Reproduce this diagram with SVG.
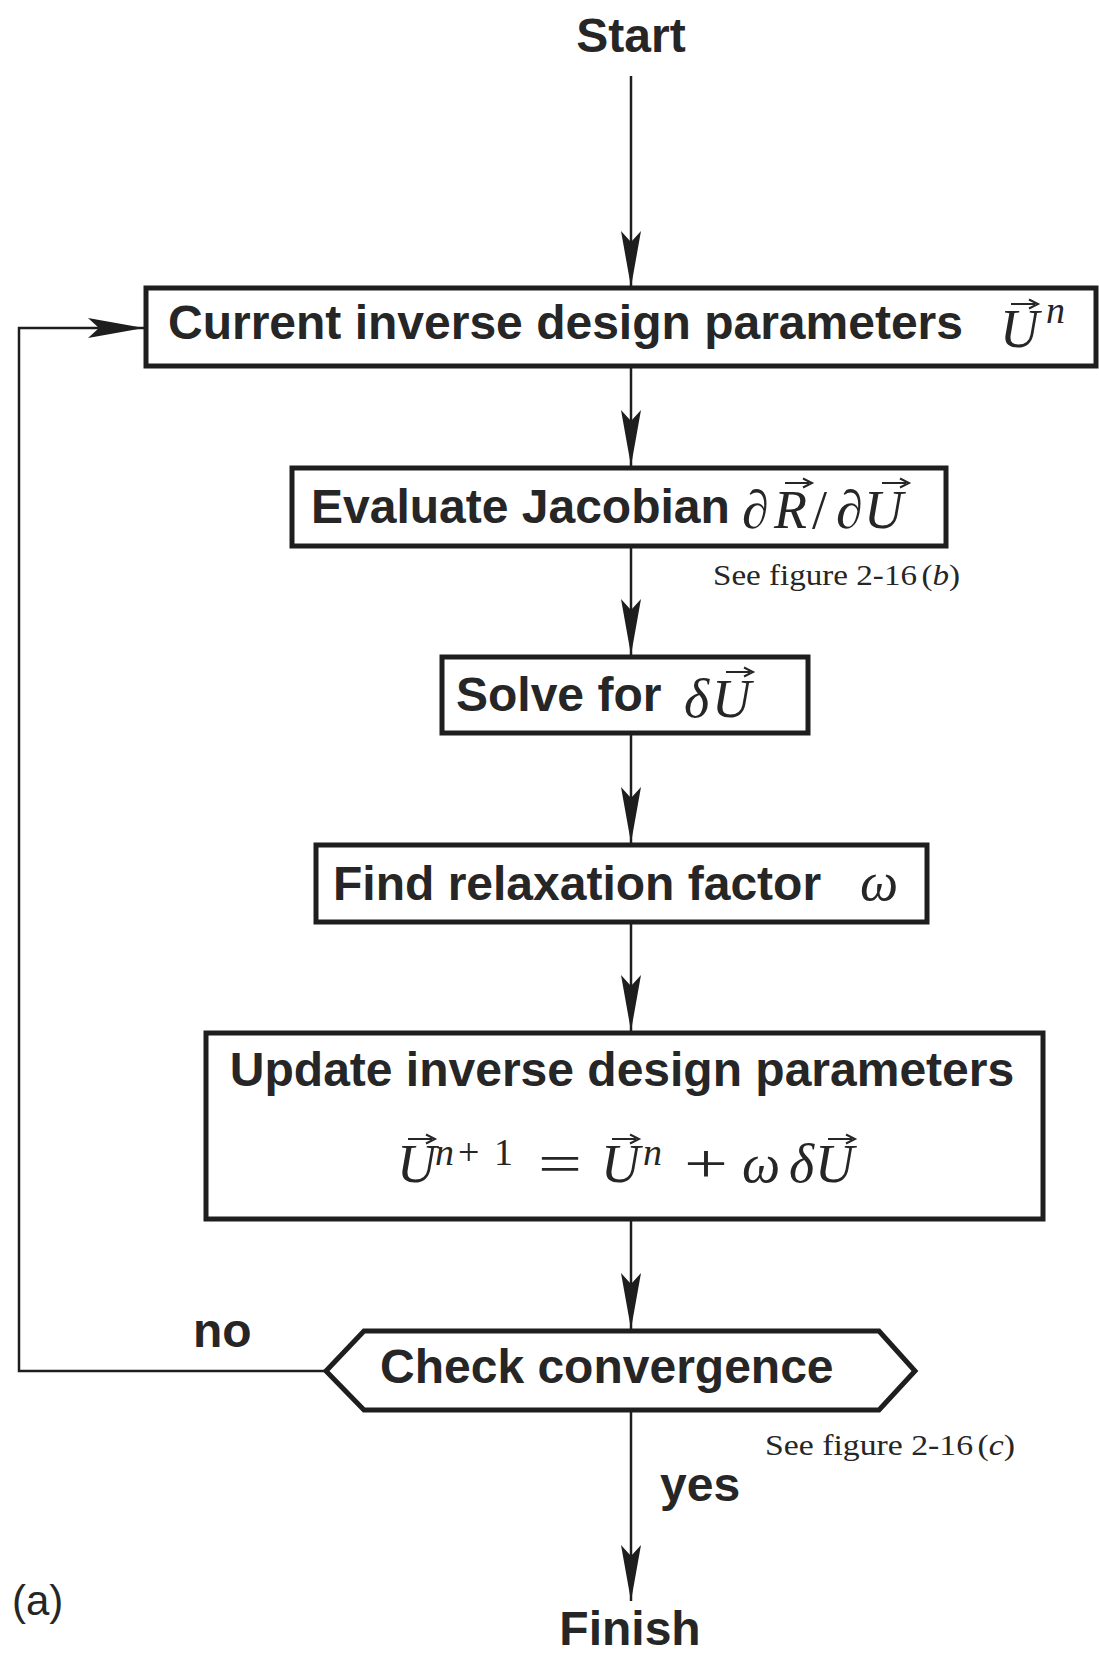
<svg xmlns="http://www.w3.org/2000/svg" xmlns:xlink="http://www.w3.org/1999/xlink" width="1099" height="1655" viewBox="0 0 1099 1655">
<style>
.box{fill:#fff;stroke:#1e1e1e;stroke-width:5}
.lbl{font-family:"Liberation Sans",Arial,sans-serif;font-weight:bold;font-size:48px;fill:#262626}
.m{font-family:"Liberation Serif","Times New Roman",serif;font-style:italic;font-size:54px;fill:#262626}
.mr{font-family:"Liberation Serif","Times New Roman",serif;font-style:normal;font-size:54px;fill:#262626}
.sup{font-family:"Liberation Serif","Times New Roman",serif;font-size:38px;fill:#262626}
.note{font-family:"Liberation Serif","Times New Roman",serif;font-size:30px;fill:#262626}
.edge{fill:none;stroke:#1e1e1e;stroke-width:2.5}
.vec{fill:none;stroke:#262626;stroke-width:2}
</style>
<defs>
<marker id="ah" viewBox="-58 -12 60 24" refX="0" refY="0" markerWidth="60" markerHeight="24" markerUnits="userSpaceOnUse" orient="auto">
<path d="M0,0 L-56,-10 L-45,0 L-56,10 Z" fill="#1e1e1e"/>
</marker>
<g id="vec"><path class="vec" d="M0,0 H24"/><path d="M18,-4.5 L27,0 L18,4.5" fill="none" stroke="#262626" stroke-width="2"/></g>
</defs>
<rect width="1099" height="1655" fill="#fff"/>

<g id="connectors">
<path class="edge" d="M631,76 V287" marker-end="url(#ah)"/>
<path class="edge" d="M631,366 V466" marker-end="url(#ah)"/>
<path class="edge" d="M631,546 V655" marker-end="url(#ah)"/>
<path class="edge" d="M631,733 V843" marker-end="url(#ah)"/>
<path class="edge" d="M631,922 V1031" marker-end="url(#ah)"/>
<path class="edge" d="M631,1219 V1329" marker-end="url(#ah)"/>
<path class="edge" d="M631,1410 V1601" marker-end="url(#ah)"/>
<path class="edge" d="M326,1371 H19 V328 H144" marker-end="url(#ah)"/>
</g>

<g id="start"><text class="lbl" x="631" y="52" text-anchor="middle">Start</text></g>

<g id="current">
<rect class="box" x="146" y="288" width="950" height="78"/>
<text class="lbl" x="168" y="339">Current inverse design parameters</text>
<text class="m" x="1000" y="347">U</text>
<use xlink:href="#vec" x="1011" y="304"/>
<text class="sup" font-style="italic" x="1046" y="323">n</text>
</g>

<g id="jacobian">
<rect class="box" x="292" y="468" width="654" height="78"/>
<text class="lbl" x="311" y="523">Evaluate Jacobian</text>
<text class="m" x="742" y="528">∂</text>
<text class="m" x="774" y="528">R</text>
<use xlink:href="#vec" x="785" y="483"/>
<text class="mr" x="812" y="528">/</text>
<text class="m" x="836" y="528">∂</text>
<text class="m" x="864" y="528">U</text>
<use xlink:href="#vec" x="882" y="483"/>
<text class="note" x="713" y="585" textLength="247" lengthAdjust="spacingAndGlyphs">See figure 2-16<tspan dx="4">(</tspan><tspan font-style="italic">b</tspan>)</text>
</g>

<g id="solve">
<rect class="box" x="442" y="657" width="366" height="76"/>
<text class="lbl" x="456" y="711">Solve for</text>
<text class="m" x="684" y="717">δ</text>
<text class="m" x="712" y="717">U</text>
<use xlink:href="#vec" x="726" y="672"/>
</g>

<g id="relax">
<rect class="box" x="316" y="845" width="611" height="77"/>
<text class="lbl" x="333" y="900">Find relaxation factor</text>
<text class="m" x="860" y="900" font-size="48">ω</text>
</g>

<g id="update">
<rect class="box" x="206" y="1033" width="837" height="186"/>
<text class="lbl" x="622" y="1086" text-anchor="middle">Update inverse design parameters</text>
<text class="m" x="397" y="1182">U</text>
<use xlink:href="#vec" x="408" y="1139"/>
<text class="sup" font-style="italic" x="435" y="1165">n</text>
<text class="sup" x="458" y="1165">+</text>
<text class="sup" x="494" y="1165">1</text>
<text class="mr" x="538" y="1182" textLength="44" lengthAdjust="spacingAndGlyphs">=</text>
<text class="m" x="601" y="1182">U</text>
<use xlink:href="#vec" x="612" y="1139"/>
<text class="sup" font-style="italic" x="643" y="1165">n</text>
<text class="mr" x="684" y="1182" textLength="44" lengthAdjust="spacingAndGlyphs">+</text>
<text class="m" x="742" y="1182">ω</text>
<text class="m" x="789" y="1182">δ</text>
<text class="m" x="815" y="1182">U</text>
<use xlink:href="#vec" x="828" y="1139"/>
</g>

<g id="check">
<polygon class="box" points="326,1371 364,1331 879,1331 915,1371 879,1410 364,1410"/>
<text class="lbl" x="380" y="1383">Check convergence</text>
<text class="note" x="765" y="1455" textLength="250" lengthAdjust="spacingAndGlyphs">See figure 2-16<tspan dx="4">(</tspan><tspan font-style="italic">c</tspan>)</text>
</g>

<g id="labels">
<text class="lbl" x="193" y="1347">no</text>
<text class="lbl" x="660" y="1501">yes</text>
<text x="12" y="1615" font-family="Liberation Sans,Arial,sans-serif" font-size="42" fill="#262626">(a)</text>
</g>

<g id="finish"><text class="lbl" x="630" y="1645" text-anchor="middle">Finish</text></g>
</svg>
